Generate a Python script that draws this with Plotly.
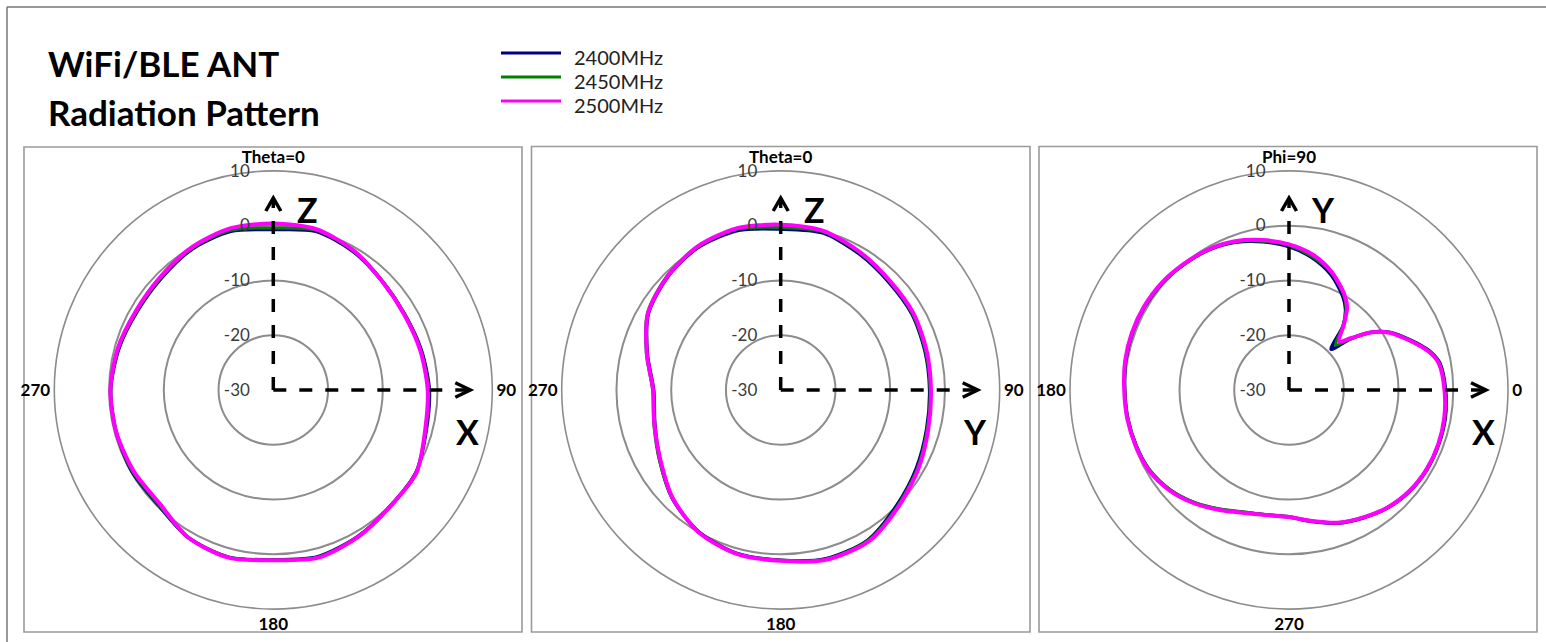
import plotly.graph_objects as go

# ---------------- data ----------------
series_names = ["2400MHz", "2450MHz", "2500MHz"]
series_colors = ["#000080", "#008000", "#FF00FF"]

# Panel 1 : XZ plane (Theta, clockwise from top)
p1_theta = [0, 15, 30, 45, 60, 75, 90, 105, 120, 135, 150, 165,
            180, 195, 210, 225, 240, 255, 270, 285, 300, 315, 330, 345]
p1_2400 = [-0.7, 0.0, -0.8, -1.9, -2.3, -2.0, -1.5, -1.1, 0.1, 0.1, 0.9, 1.5,
           1.0, 1.6, 1.1, -0.3, -0.2, -0.3, -0.3, -0.8, -1.3, -1.1, -0.3, 0.0]
p1_2450 = [-0.4, 0.2, -0.7, -1.8, -2.3, -2.1, -1.6, -1.2, 0.2, 0.2, 1.0, 1.6,
           1.0, 1.6, 1.1, -0.4, -0.3, -0.3, -0.3, -0.7, -1.2, -1.0, -0.2, 0.2]
p1_2500 = [0.4, 0.4, -0.6, -1.9, -2.4, -2.2, -1.8, -1.3, 0.2, 0.15, 1.0, 1.7,
           1.1, 1.7, 1.1, -0.65, -0.5, -0.3, -0.25, -0.6, -1.05, -0.8, 0.0, 0.55]

# Panel 2 : YZ plane (Theta, clockwise from top)
p2_theta = [0, 15, 30, 45, 60, 75, 90, 105, 120, 135, 150, 165,
            180, 195, 210, 225, 240, 255, 270, 285, 300, 315, 330, 345]
p2_2400 = [-0.6, -0.3, -1.3, -2.1, -2.3, -2.7, -2.8, -2.4, -1.4, -0.1, 1.7, 1.9,
           1.1, 0.9, -0.1, -2.0, -4.5, -6.2, -6.8, -4.8, -2.1, -0.8, 0.1, 0.2]
p2_2450 = [-0.3, -0.1, -1.1, -1.9, -2.2, -2.6, -2.7, -2.3, -1.2, 0.1, 1.8, 2.0,
           1.1, 1.0, 0.0, -2.0, -4.4, -6.0, -6.6, -4.6, -1.9, -0.6, 0.3, 0.4]
p2_2500 = [0.2, 0.1, -0.95, -1.8, -2.0, -2.4, -2.55, -2.1, -1.0, 0.3, 2.0, 2.1,
           1.2, 1.0, 0.0, -2.1, -4.6, -6.1, -6.7, -4.7, -2.0, -0.7, 0.3, 0.6]

# Panel 3 : XY plane (Phi, counter-clockwise from right)
p3_phi = [0, 10, 15, 20, 25, 30, 35, 40, 44, 50, 55, 60, 70, 80, 90, 100, 110,
          120, 130, 140, 150, 160, 170, 180, 190, 200, 210, 220, 230, 240, 250,
          260, 270, 280, 290, 300, 310, 320, 330, 340, 350]
p3_2400 = [-1.4, -2.0, -3.2, -5.1, -7.0, -8.9, -11.6, -15.6, -19.3, -14.6, -12.0,
           -10.3, -7.6, -5.5, -3.8, -2.5, -1.3, -0.5, -0.1, 0.3, 0.45, 0.45, 0.3,
           0.0, -0.1, -0.3, -0.6, -1.6, -3.1, -4.8, -6.2, -6.8, -6.8, -5.6, -4.1,
           -3.0, -1.9, -1.2, -0.9, -0.9, -1.0]
p3_2450 = [-1.5, -2.1, -3.3, -5.2, -7.1, -9.0, -11.6, -15.5, -18.2, -14.5, -11.8,
           -10.0, -7.3, -5.3, -3.6, -2.4, -1.2, -0.5, -0.1, 0.3, 0.45, 0.45, 0.3,
           0.0, -0.1, -0.3, -0.7, -1.7, -3.2, -4.9, -6.3, -6.9, -6.9, -5.7, -4.2,
           -3.1, -2.0, -1.3, -1.0, -1.0, -1.1]
p3_2500 = [-1.6, -2.2, -3.4, -5.3, -7.2, -9.0, -11.6, -15.3, -17.3, -14.4, -11.5,
           -9.8, -7.1, -4.9, -3.4, -2.2, -1.1, -0.4, 0.0, 0.4, 0.55, 0.55, 0.4,
           0.1, 0.0, -0.2, -0.5, -1.5, -3.0, -4.7, -6.1, -6.8, -6.8, -5.7, -4.2,
           -3.1, -2.0, -1.3, -1.0, -1.0, -1.2]

radial_ticks = [-30, -20, -10, 0, 10]
ang_ticks = [0, 90, 180, 270]
p12_ang_labels = ["Theta=0", "90", "180", "270"]
p3_ang_labels = ["0", "Phi=90", "180", "270"]
axis_letters = [("Z", "X"), ("Z", "Y"), ("Y", "X")]

title_lines = ["WiFi/BLE ANT", "Radiation Pattern"]

# ---------------- layout geometry (pixels) ----------------
W, H = 1546, 642
centers = [273.3, 780.7, 1289.0]
CY = 390.0
R = 219.0
boxes = [(24, 147, 522, 632), (531.5, 146.5, 1030, 632), (1039, 146.5, 1537, 632)]


def px(x):
    return x / W


def py(y):
    return 1 - y / H


FONT = "Lato, 'Open Sans', sans-serif"
GRID = "#8c8c8c"

fig = go.Figure()

panels = [
    (p1_theta, [p1_2400, p1_2450, p1_2500]),
    (p2_theta, [p2_2400, p2_2450, p2_2500]),
    (p3_phi, [p3_2400, p3_2450, p3_2500]),
]
widths = [3.5, 3, 4]

for i, (ang, rs) in enumerate(panels):
    sub = "polar" if i == 0 else f"polar{i+1}"
    for j, r in enumerate(rs):
        fig.add_trace(go.Scatterpolar(
            theta=list(ang) + [ang[0] + 360],
            r=list(r) + [r[0]],
            mode="lines",
            name=series_names[j],
            line=dict(color=series_colors[j], width=widths[j],
                      shape="spline", smoothing=0.8),
            subplot=sub,
            showlegend=False,
            hoverinfo="skip",
        ))

polar_common = dict(
    bgcolor="rgba(0,0,0,0)",
    radialaxis=dict(
        range=[-30, 10], tickmode="array", tickvals=radial_ticks,
        ticktext=[str(v) for v in radial_ticks],
        showgrid=True, gridcolor=GRID, gridwidth=1.6, showline=False,
        ticks="outside", ticklen=17, tickcolor="rgba(0,0,0,0)",
        angle=90, tickangle=90, side="counterclockwise",
        tickfont=dict(family=FONT, size=17, color="#3a3a3a"),
    ),
)

for i in range(3):
    cx = centers[i]
    dom = dict(x=[px(cx - R), px(cx + R)], y=[py(CY + R), py(CY - R)])
    if i < 2:
        rot, dirn, labels = 90, "clockwise", p12_ang_labels
    else:
        rot, dirn, labels = 0, "counterclockwise", p3_ang_labels
    angular = dict(
        tickmode="array", tickvals=ang_ticks, ticktext=labels,
        showgrid=False, showline=True, linecolor=GRID, linewidth=1.6,
        ticks="", ticklen=0,
        tickfont=dict(family=FONT, size=17, color="black", weight="bold"),
        rotation=rot, direction=dirn,
    )
    key = "polar" if i == 0 else f"polar{i+1}"
    fig.update_layout({key: dict(domain=dom, angularaxis=angular, **polar_common)})

shapes = []
annotations = []

# outer frame (left/top) and panel boxes
FR = "#767676"
shapes.append(dict(type="line", xref="paper", yref="paper", x0=px(7), y0=py(7),
                   x1=px(7), y1=py(642), line=dict(color=FR, width=1.5)))
shapes.append(dict(type="line", xref="paper", yref="paper", x0=px(7), y0=py(7),
                   x1=px(1546), y1=py(7), line=dict(color=FR, width=1.5)))
for (x0, y0, x1, y1) in boxes:
    shapes.append(dict(type="rect", xref="paper", yref="paper", x0=px(x0), y0=py(y0),
                       x1=px(x1), y1=py(y1), line=dict(color="#9a9a9a", width=1.6),
                       layer="below"))

# dashed axis arrows
for i, cx in enumerate(centers):
    dash = dict(color="black", width=3.5, dash="13px,13px")
    shapes.append(dict(type="line", xref="paper", yref="paper", x0=px(cx), y0=py(CY),
                       x1=px(cx), y1=py(200), line=dash, layer="above"))
    shapes.append(dict(type="line", xref="paper", yref="paper", x0=px(cx), y0=py(CY),
                       x1=px(cx + 195), y1=py(CY), line=dash, layer="above"))
    up = f"M {px(cx-7.5)},{py(211)} L {px(cx)},{py(198)} L {px(cx+7.5)},{py(211)}"
    rt = (f"M {px(cx+182)},{py(CY-7.3)} L {px(cx+197)},{py(CY)} "
          f"L {px(cx+182)},{py(CY+7.3)}")
    for p in (up, rt):
        shapes.append(dict(type="path", xref="paper", yref="paper", path=p,
                           line=dict(color="black", width=3.5), layer="above"))
    v, h = axis_letters[i]
    annotations.append(dict(text=f"<b>{v}</b>", x=px(cx + 34), y=py(209),
                            xref="paper", yref="paper", showarrow=False,
                            xanchor="center", yanchor="middle",
                            font=dict(family=FONT, size=34, color="black")))
    annotations.append(dict(text=f"<b>{h}</b>", x=px(cx + 194), y=py(431.5),
                            xref="paper", yref="paper", showarrow=False,
                            xanchor="center", yanchor="middle",
                            font=dict(family=FONT, size=34, color="black")))

# title
for t, yc in zip(title_lines, [63, 112]):
    annotations.append(dict(text=f"<b>{t}</b>", x=px(46), y=py(yc), xref="paper",
                            yref="paper", showarrow=False, xanchor="left",
                            yanchor="middle",
                            font=dict(family=FONT, size=35, color="black")))

# legend (key lines + labels)
leg_text_y = [57, 81, 105]
for j, name in enumerate(series_names):
    ly = leg_text_y[j] - 4
    shapes.append(dict(type="line", xref="paper", yref="paper", x0=px(501), y0=py(ly),
                       x1=px(561), y1=py(ly),
                       line=dict(color=series_colors[j], width=3.2)))
    annotations.append(dict(text=name, x=px(572), y=py(leg_text_y[j]), xref="paper",
                            yref="paper", showarrow=False, xanchor="left",
                            yanchor="middle",
                            font=dict(family=FONT, size=20, color="#222222")))

fig.update_layout(
    width=W, height=H, autosize=False,
    margin=dict(l=0, r=0, t=0, b=0),
    paper_bgcolor="white", plot_bgcolor="white",
    showlegend=False,
    shapes=shapes, annotations=annotations,
)

fig.write_html("out.html", config={"displayModeBar": False},
               post_script="document.body.style.margin='0px';"
                           "document.body.style.overflow='hidden';")
